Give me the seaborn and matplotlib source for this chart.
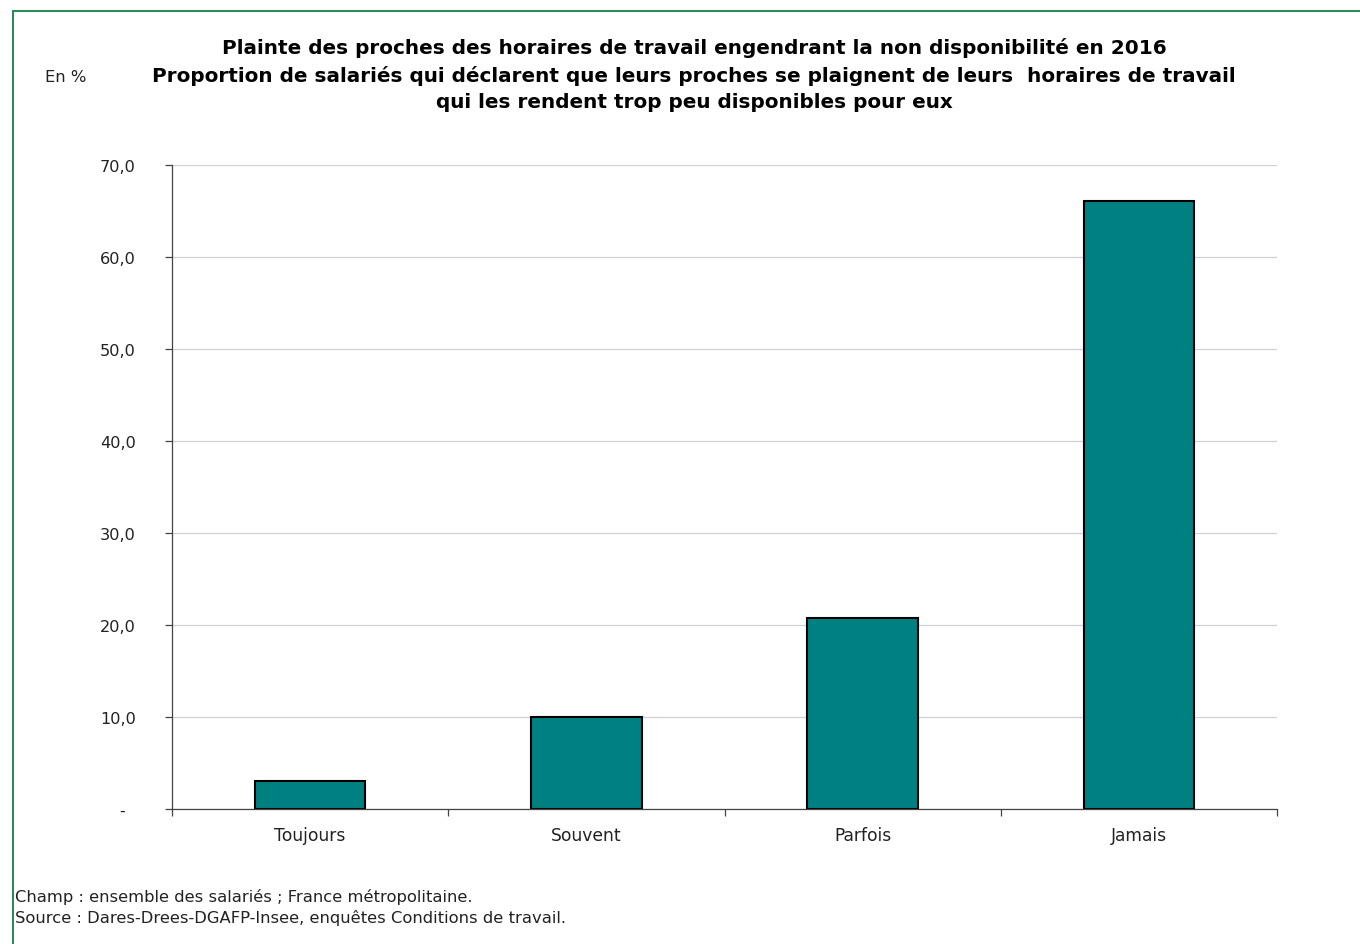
import matplotlib
matplotlib.use("Agg")
import matplotlib.pyplot as plt
import seaborn as sns
import pandas as pd
from matplotlib.patches import Rectangle

categories = ["Toujours", "Souvent", "Parfois", "Jamais"]
values = [3.0, 10.0, 20.8, 66.1]
ytick_values = [0, 10, 20, 30, 40, 50, 60, 70]
ytick_labels = ["-  ", "10,0", "20,0", "30,0", "40,0", "50,0", "60,0", "70,0"]
title_lines = [
    "Plainte des proches des horaires de travail engendrant la non disponibilité en 2016",
    "Proportion de salariés qui déclarent que leurs proches se plaignent de leurs  horaires de travail",
    "qui les rendent trop peu disponibles pour eux",
]
notes = [
    "Champ : ensemble des salariés ; France métropolitaine.",
    "Source : Dares-Drees-DGAFP-Insee, enquêtes Conditions de travail.",
]

sns.set_style("white")
plt.rcParams["font.family"] = ["DejaVu Sans"]

W, H = 1360, 945
fig = plt.figure(figsize=(W / 100, H / 100), dpi=100)
ax = fig.add_axes([172 / W, 1 - 810 / H, (1277 - 172) / W, (810 - 166) / H])

df = pd.DataFrame({"cat": categories, "val": values})
sns.barplot(data=df, x="cat", y="val", ax=ax, color="#008080", width=0.4,
            edgecolor="black", linewidth=1.5, saturation=1)

ax.set_xlim(-0.5, 3.5)
ax.set_ylim(0, 70)
ax.set_yticks(ytick_values)
ax.set_yticklabels(ytick_labels, fontsize=11.6, color="#222222")
ax.yaxis.grid(True, color="#d0d0d0", linewidth=0.9)
ax.set_axisbelow(True)
ax.set_xlabel("")
ax.set_ylabel("")
for s in ["top", "right"]:
    ax.spines[s].set_visible(False)
for s in ["left", "bottom"]:
    ax.spines[s].set_color("#444444")
    ax.spines[s].set_linewidth(0.9)

# x: labels at centres, ticks at boundaries
ax.set_xticks(range(len(categories)))
ax.set_xticklabels(categories, fontsize=12.3, color="#222222")
ax.tick_params(axis="x", which="major", length=0, pad=12, bottom=True)
ax.set_xticks([-0.5, 0.5, 1.5, 2.5, 3.5], minor=True)
ax.tick_params(axis="x", which="minor", length=5, color="#444444", width=0.9,
               direction="out", bottom=True)
ax.tick_params(axis="y", length=5, color="#444444", width=0.9, direction="out",
               pad=21, left=True)

# title
ys = [48, 76, 103]
for t, y in zip(title_lines, ys):
    fig.text(694 / W, 1 - y / H, t, ha="center", va="center", fontsize=14.4,
             fontweight="bold", color="black")
fig.text(45 / W, 1 - 78 / H, "En %", ha="left", va="center", fontsize=11.8, color="#222222")

for t, y in zip(notes, [897, 918]):
    fig.text(15 / W, 1 - y / H, t, ha="left", va="center", fontsize=11.8, color="#222222")

# green frame
fig.patches.append(Rectangle((13 / W, -0.01), 1.0, 1 - 12 / H + 0.01,
                             transform=fig.transFigure, fill=False,
                             edgecolor="#2e8b57", linewidth=1.5))

fig.savefig("out.png", dpi=100)
